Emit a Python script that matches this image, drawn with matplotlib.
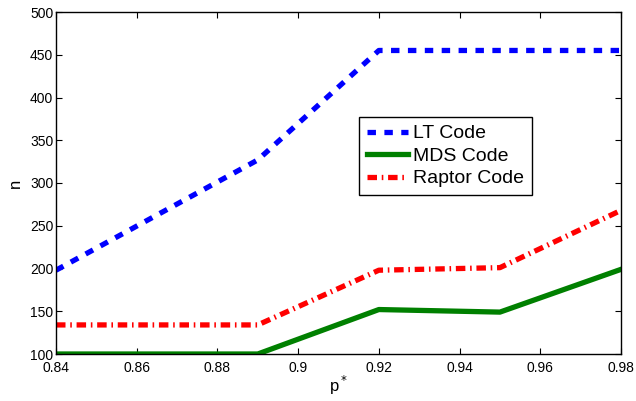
import matplotlib
matplotlib.use("Agg")
import matplotlib.pyplot as plt

plt.rcParams['font.family'] = ['Liberation Sans', 'DejaVu Sans']

p_star = [0.84, 0.89, 0.92, 0.95, 0.98]
lt_code = [198, 327, 455, 455, 455]
mds_code = [100, 100, 152, 149, 199]
raptor_code = [134, 134, 198, 201, 268]

fig = plt.figure(figsize=(6.36, 4.01), dpi=100)
ax = fig.add_axes([56/636, 1 - 354/401, (621-56)/636, (354-12)/401])

ax.plot(p_star, lt_code, color='blue', lw=3.8, dashes=(1.6, 1.6), label='LT Code')
ax.plot(p_star, mds_code, color='green', lw=3.8, label='MDS Code')
ax.plot(p_star, raptor_code, color='red', lw=3.8, dashes=(1.8, 0.9, 0.3, 0.9), label='Raptor Code')

ax.set_xlim(0.84, 0.98)
ax.set_ylim(100, 500)
ax.set_xticks([0.84, 0.86, 0.88, 0.9, 0.92, 0.94, 0.96, 0.98])
ax.set_xticklabels(['0.84', '0.86', '0.88', '0.9', '0.92', '0.94', '0.96', '0.98'])
ax.set_yticks(range(100, 501, 50))
ax.tick_params(direction='in', top=True, right=True, labelsize=10, length=4)
ax.tick_params(axis='x', pad=5)
ax.tick_params(axis='y', pad=2)
for s in ax.spines.values():
    s.set_linewidth(1.0)

ax.set_xlabel('p$^*$', fontsize=12, labelpad=-1)
ax.set_ylabel('n', fontsize=12, labelpad=5)

leg = ax.legend(loc='upper left', bbox_to_anchor=((359-56)/565, 1 - (117-12)/342),
                fontsize=14, fancybox=False, framealpha=1, edgecolor='black',
                handlelength=2.1, borderpad=0.4, labelspacing=0.25, handletextpad=0.27,
                borderaxespad=0)
leg.get_frame().set_linewidth(1.0)

fig.savefig('out.png', dpi=100)
